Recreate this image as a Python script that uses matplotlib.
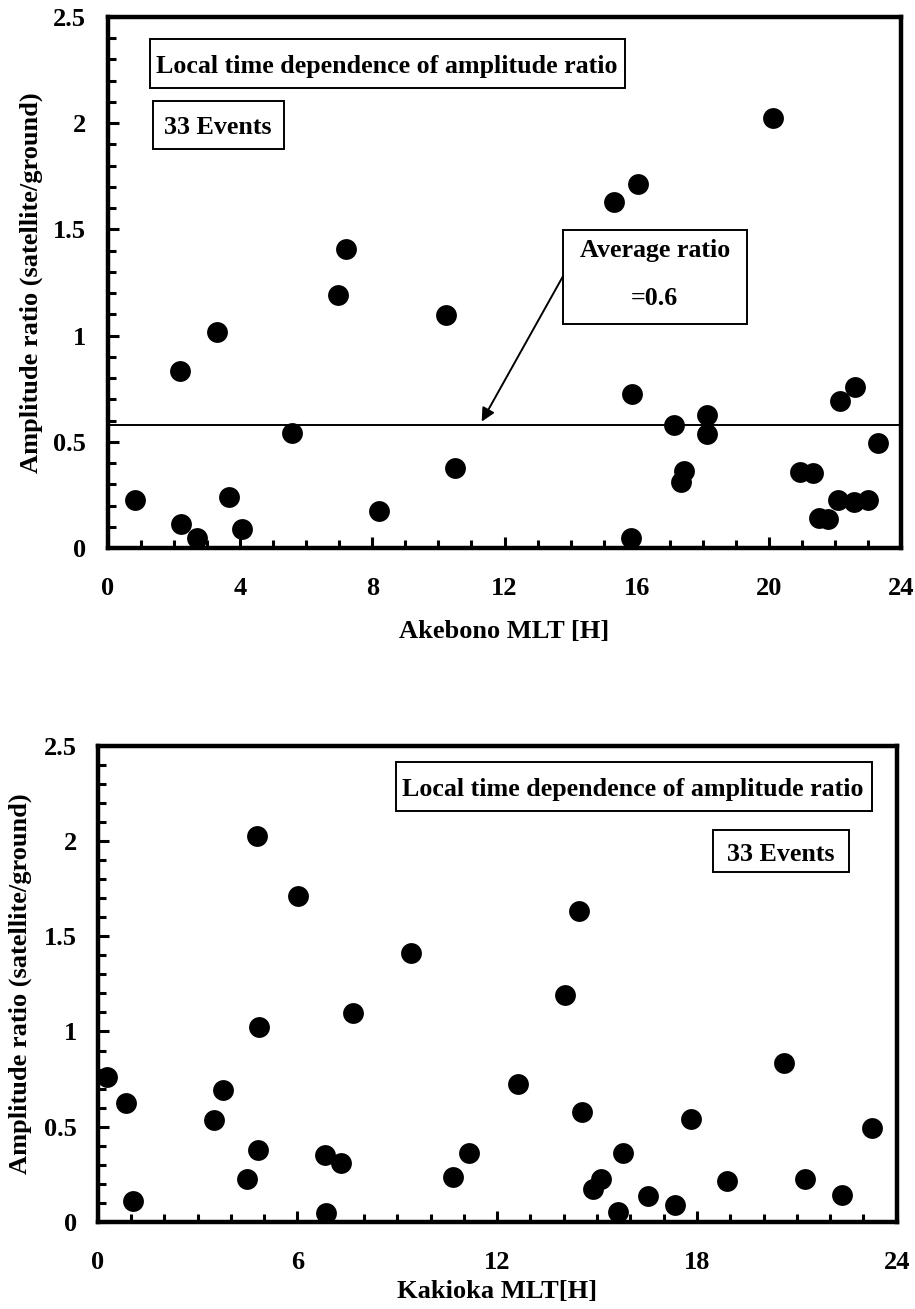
import matplotlib
matplotlib.use("Agg")
import matplotlib.pyplot as plt
from matplotlib.ticker import MultipleLocator, FuncFormatter
from matplotlib.patches import Rectangle

# ---------------- data ----------------
akebono_mlt = [0.82, 2.18, 3.29, 2.20, 2.70, 3.66, 4.07, 5.56, 8.21, 10.50,
               10.22, 7.19, 6.95, 20.14, 16.03, 15.32,
               15.87, 17.13, 18.12, 18.12, 17.44, 17.34, 15.83, 22.61, 22.14,
               23.31, 20.94, 21.33, 22.08, 22.59, 23.01, 21.53, 21.80]
akebono_ratio = [0.226, 0.833, 1.018, 0.113, 0.046, 0.242, 0.089, 0.540, 0.174, 0.378,
                 1.097, 1.408, 1.190, 2.023, 1.712, 1.630,
                 0.725, 0.578, 0.626, 0.535, 0.362, 0.312, 0.049, 0.760, 0.694,
                 0.493, 0.359, 0.352, 0.226, 0.218, 0.226, 0.143, 0.137]

kakioka_mlt = [4.78, 6.03, 9.41, 14.45, 14.04,
               7.68, 4.85, 0.27, 0.84, 3.77, 3.49, 4.81, 4.48, 1.05, 6.83, 7.30, 6.87, 10.66,
               20.62, 12.62, 14.56, 17.81, 23.25, 11.16, 15.77, 15.12, 14.89, 18.89,
               21.25, 16.52, 22.35, 17.34, 15.62]
kakioka_ratio = [2.027, 1.712, 1.414, 1.633, 1.192,
                 1.099, 1.021, 0.763, 0.623, 0.693, 0.536, 0.378, 0.228, 0.112, 0.352, 0.312, 0.046, 0.238,
                 0.837, 0.723, 0.576, 0.541, 0.492, 0.361, 0.361, 0.224, 0.173, 0.215,
                 0.226, 0.137, 0.142, 0.089, 0.051]

average_ratio = 0.58

title_text = "Local time dependence of amplitude ratio"
events_text = "33 Events"
avg_text_1 = "Average ratio"
avg_text_2 = "=0.6"
ylabel_text = "Amplitude ratio (satellite/ground)"
xlabel_top = "Akebono MLT [H]"
xlabel_bottom = "Kakioka MLT[H]"

# ---------------- style ----------------
plt.rcParams['font.family'] = ['Liberation Serif', 'DejaVu Serif']
plt.rcParams['font.weight'] = 'bold'
FS = 19
BOXFS = 18.7

fig = plt.figure(figsize=(9.15, 13.09), dpi=100)
W, H = 915, 1309


def make_axes(l, r, t, b):
    return fig.add_axes([l / W, (H - b) / H, (r - l) / W, (b - t) / H])


def style_axes(ax, xmajor, ypad):
    ax.set_xlim(0, 24)
    ax.set_ylim(0, 2.5)
    ax.xaxis.set_major_locator(MultipleLocator(xmajor))
    ax.xaxis.set_minor_locator(MultipleLocator(1))
    ax.yaxis.set_major_locator(MultipleLocator(0.5))
    ax.yaxis.set_minor_locator(MultipleLocator(0.1))
    fmt = FuncFormatter(lambda v, p: "%g" % v)
    ax.xaxis.set_major_formatter(fmt)
    ax.yaxis.set_major_formatter(fmt)
    ax.tick_params(which='both', direction='in', top=False, right=False, width=2.2)
    ax.tick_params(which='major', length=8)
    ax.tick_params(which='minor', length=6)
    ax.tick_params(axis='x', which='major', pad=21, labelsize=FS)
    ax.tick_params(axis='y', which='major', pad=ypad, labelsize=FS)
    for lab in ax.get_xticklabels() + ax.get_yticklabels():
        lab.set_fontweight('bold')
    for s in ax.spines.values():
        s.set_linewidth(3.2)


def box(ax, x0, y0, x1, y1):
    ax.add_patch(Rectangle((x0, y0), x1 - x0, y1 - y0, transform=ax.transAxes,
                           fill=True, facecolor='white', edgecolor='black',
                           lw=1.4, zorder=4))


# ---------------- top chart ----------------
ax1 = make_axes(108, 901, 17, 548)
style_axes(ax1, 4, 16)
ax1.axhline(average_ratio, color='black', lw=1.4, zorder=2)
ax1.plot(akebono_mlt, akebono_ratio, 'o', ms=15, color='black', mew=0,
         clip_on=False, zorder=5)
ax1.set_xlabel(xlabel_top, fontsize=FS, fontweight='bold')
ax1.set_ylabel(ylabel_text, fontsize=FS, fontweight='bold')
ax1.xaxis.set_label_coords(0.5, -0.136)
ax1.yaxis.set_label_coords(-0.082, 0.5)

box(ax1, 0.053, 0.866, 0.652, 0.958)
ax1.text(0.352, 0.912, title_text, transform=ax1.transAxes, fontsize=BOXFS,
         fontweight='bold', ha='center', va='center_baseline', zorder=6)
box(ax1, 0.0564, 0.7508, 0.2223, 0.8424)
ax1.text(0.139, 0.7966, events_text, transform=ax1.transAxes, fontsize=BOXFS,
         fontweight='bold', ha='center', va='center_baseline', zorder=6)
box(ax1, 0.5734, 0.4218, 0.8054, 0.5989)
ax1.text(0.6894, 0.565, avg_text_1, transform=ax1.transAxes, fontsize=BOXFS,
         fontweight='bold', ha='center', va='center_baseline', zorder=6)
ax1.text(0.6894, 0.4746, avg_text_2, transform=ax1.transAxes, fontsize=BOXFS,
         fontweight='bold', ha='center', va='center_baseline', zorder=6)
ax1.annotate("", xy=(11.31, average_ratio + 0.015), xycoords='data',
             xytext=(0.5734, 0.5109), textcoords='axes fraction',
             arrowprops=dict(arrowstyle='-|>', lw=1.4, color='black',
                             mutation_scale=20, shrinkA=0, shrinkB=0),
             zorder=6)

# ---------------- bottom chart ----------------
ax2 = make_axes(97.7, 896.7, 745.7, 1222)
style_axes(ax2, 6, 15)
ax2.plot(kakioka_mlt, kakioka_ratio, 'o', ms=15, color='black', mew=0,
         clip_on=False, zorder=5)
ax2.set_xlabel(xlabel_bottom, fontsize=FS, fontweight='bold')
ax2.set_ylabel(ylabel_text, fontsize=FS, fontweight='bold')
ax2.xaxis.set_label_coords(0.5, -0.121)
ax2.yaxis.set_label_coords(-0.082, 0.5)

box(ax2, 0.3733, 0.8635, 0.9687, 0.9664)
ax2.text(0.670, 0.914, title_text, transform=ax2.transAxes, fontsize=BOXFS,
         fontweight='bold', ha='center', va='center_baseline', zorder=6)
box(ax2, 0.7697, 0.7348, 0.9407, 0.823)
ax2.text(0.8552, 0.7775, events_text, transform=ax2.transAxes, fontsize=BOXFS,
         fontweight='bold', ha='center', va='center_baseline', zorder=6)

fig.savefig("out.png", dpi=100)
